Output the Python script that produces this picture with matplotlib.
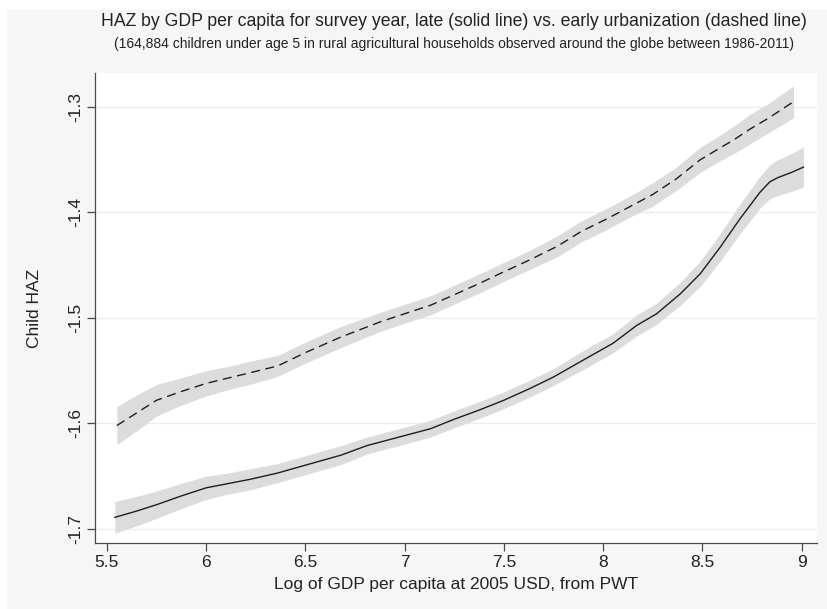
import matplotlib
matplotlib.use("Agg")
import matplotlib.pyplot as plt
from matplotlib.patches import Rectangle
import numpy as np

# Late urbanization (solid line): local polynomial fit and CI half-width
late_x = [5.54, 5.65, 5.75, 5.87, 6.00, 6.11, 6.22, 6.36, 6.51, 6.68, 6.81, 6.93,
          7.03, 7.13, 7.25, 7.38, 7.50, 7.63, 7.75, 7.89, 8.05, 8.17, 8.27, 8.39,
          8.49, 8.59, 8.69, 8.79, 8.84, 8.88, 8.95, 9.01]
late_y = [-1.689, -1.683, -1.677, -1.669, -1.661, -1.657, -1.653, -1.647, -1.639,
          -1.630, -1.621, -1.615, -1.610, -1.605, -1.596, -1.587, -1.578, -1.567,
          -1.556, -1.541, -1.524, -1.507, -1.496, -1.477, -1.458, -1.433, -1.406,
          -1.381, -1.371, -1.367, -1.362, -1.357]
late_ci = [0.015, 0.014, 0.013, 0.012, 0.011, 0.010, 0.010, 0.009, 0.009, 0.009,
           0.008, 0.008, 0.008, 0.008, 0.008, 0.008, 0.008, 0.008, 0.008, 0.009,
           0.009, 0.010, 0.010, 0.011, 0.012, 0.013, 0.014, 0.015, 0.016, 0.017,
           0.018, 0.019]

# Early urbanization (dashed line): local polynomial fit and CI half-width
early_x = [5.55, 5.65, 5.75, 5.87, 6.00, 6.11, 6.22, 6.36, 6.51, 6.68, 6.88, 7.00,
           7.13, 7.25, 7.38, 7.48, 7.63, 7.77, 7.89, 8.02, 8.14, 8.25, 8.37, 8.49,
           8.57, 8.66, 8.74, 8.83, 8.96]
early_y = [-1.602, -1.590, -1.578, -1.570, -1.562, -1.557, -1.552, -1.5455, -1.532,
           -1.518, -1.5035, -1.496, -1.488, -1.478, -1.467, -1.458, -1.445, -1.432,
           -1.418, -1.406, -1.394, -1.383, -1.368, -1.350, -1.341, -1.331, -1.321,
           -1.311, -1.295]
early_ci = [0.018, 0.017, 0.015, 0.013, 0.012, 0.011, 0.011, 0.010, 0.010, 0.010,
            0.009, 0.009, 0.009, 0.009, 0.009, 0.009, 0.009, 0.010, 0.010, 0.010,
            0.010, 0.011, 0.011, 0.012, 0.012, 0.013, 0.014, 0.014, 0.015]

x_ticks = [5.5, 6, 6.5, 7, 7.5, 8, 8.5, 9]
x_tick_labels = ["5.5", "6", "6.5", "7", "7.5", "8", "8.5", "9"]
y_ticks = [-1.7, -1.6, -1.5, -1.4, -1.3]
y_tick_labels = ["-1.7", "-1.6", "-1.5", "-1.4", "-1.3"]

title = "HAZ by GDP per capita for survey year, late (solid line) vs. early urbanization (dashed line)"
subtitle = ("(164,884 children under age 5 in rural agricultural households "
            "observed around the globe between 1986-2011)")

plt.rcParams["font.family"] = ["Liberation Sans", "DejaVu Sans"]

W, H = 827, 609
fig = plt.figure(figsize=(W / 100, H / 100), dpi=100, facecolor="white")

# light gray graph region behind the white plot region
fig.patches.append(Rectangle((7 / W, 0), 1 - 7 / W, 1 - 10 / H,
                             transform=fig.transFigure, facecolor="#f6f6f6",
                             edgecolor="none", zorder=0))

ax = fig.add_axes([95 / W, (H - 543) / H, (817 - 95) / W, (543 - 73) / H])
ax.set_zorder(2)
ax.set_facecolor("white")

band_color = "#dcdcdc"
line_color = "#1e1e1e"

lx, ly, lc = np.array(late_x), np.array(late_y), np.array(late_ci)
ex, ey, ec = np.array(early_x), np.array(early_y), np.array(early_ci)

ax.fill_between(ex, ey - ec, ey + ec, color=band_color, lw=0, zorder=2)
ax.fill_between(lx, ly - lc, ly + lc, color=band_color, lw=0, zorder=2)
ax.plot(ex, ey, color=line_color, lw=1.0, linestyle=(0, (6.5, 4)), zorder=3)
ax.plot(lx, ly, color=line_color, lw=1.0, zorder=3)

ax.set_xlim(5.44, 9.078)
ax.set_ylim(-1.7133, -1.2678)

ax.set_xticks(x_ticks)
ax.set_xticklabels(x_tick_labels)
ax.set_yticks(y_ticks)
ax.set_yticklabels(y_tick_labels, rotation=90, va="center")

ax.grid(axis="y", color="#ececec", lw=0.9, zorder=1)
ax.set_axisbelow(True)

for side in ("top", "right"):
    ax.spines[side].set_visible(False)
for side in ("left", "bottom"):
    ax.spines[side].set_color("#4a4a4a")
    ax.spines[side].set_linewidth(0.9)

ax.tick_params(axis="both", direction="out", length=5.5, width=0.9,
               color="#4a4a4a", labelsize=12.5, labelcolor="#222222", pad=3)

ax.set_xlabel("Log of GDP per capita at 2005 USD, from PWT", fontsize=12.5,
              color="#222222", labelpad=5)
ax.set_ylabel("Child HAZ", fontsize=12.5, color="#222222", labelpad=19)

fig.text(454 / W, 1 - 22 / H, title, ha="center", va="center", fontsize=12.7,
         color="#222222")
fig.text(454 / W, 1 - 44 / H, subtitle, ha="center", va="center", fontsize=10,
         color="#222222")

fig.savefig("out.png", dpi=100, facecolor="white")
